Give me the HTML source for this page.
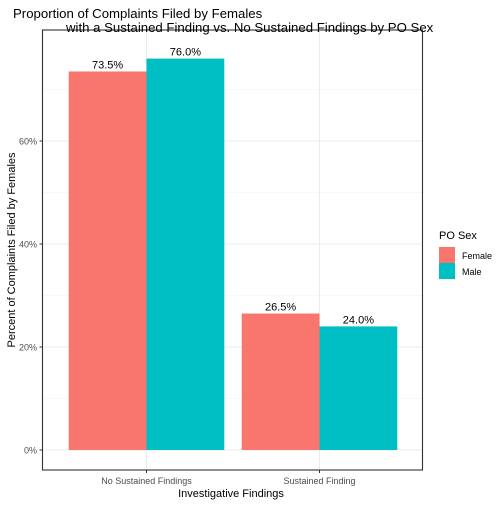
<!DOCTYPE html>
<html><head><meta charset="utf-8"><style>
body{margin:0;background:#fff}
svg text{font-family:"Liberation Sans",Arial,sans-serif}
</style></head><body>
<svg id="c" width="504" height="504" xmlns="http://www.w3.org/2000/svg"></svg>
<script>
const categories=["No Sustained Findings","Sustained Finding"];
const female=[73.5,26.5];
const male=[76.0,24.0];
const yTicks=[0,20,40,60];
const svg=document.getElementById('c');
const NS="http://www.w3.org/2000/svg";
function mk(t,a,txt){const e=document.createElementNS(NS,t);for(const k in a)e.setAttribute(k,a[k]);if(txt!=null)e.textContent=txt;svg.appendChild(e);return e;}
const L=42.5,R=422.5,T=30,B=470;
const y=v=>450-v*5.15;
const xc=i=>146.5+i*173;
const bw=77.8;
// grid
for(let v=10;v<=70;v+=20){const g=mk('line',{x1:L,x2:R,y1:y(v),y2:y(v),stroke:'#f2f2f2','stroke-width':0.6});}
yTicks.forEach(v=>{const g=mk('line',{x1:L,x2:R,y1:y(v),y2:y(v),stroke:'#ebebeb','stroke-width':1.1});
const t=mk('text',{x:37,y:y(v)+3.5,'font-size':9,fill:'#4d4d4d','text-anchor':'end'},v+'%');
mk('line',{x1:39.5,x2:42.5,y1:y(v),y2:y(v),stroke:'#333'});});
categories.forEach((c,i)=>{const g=mk('line',{x1:xc(i),x2:xc(i),y1:T,y2:B,stroke:'#ebebeb','stroke-width':1.1});});
categories.forEach((c,i)=>{
 [[female[i],'#F8766D',-1,'bar-female'],[male[i],'#00BFC4',0,'bar-male']].forEach(([v,col,off,nm])=>{
  const x0=xc(i)+off*bw;
  const r=mk('rect',{x:x0,y:y(v),width:bw,height:y(0)-y(v),fill:col});
  
  const t=mk('text',{x:x0+bw/2,y:y(v)-3,'font-size':11,fill:'#000','text-anchor':'middle'},v.toFixed(1)+'%');
  
 });
 mk('line',{x1:xc(i),x2:xc(i),y1:B,y2:B+3,stroke:'#333'});
 const t=mk('text',{x:xc(i),y:484,'font-size':9,fill:'#4d4d4d','text-anchor':'middle'},c);
 
});
const p=mk('rect',{x:L,y:T,width:R-L,height:B-T,fill:'none',stroke:'#333','stroke-width':1.1});
let t;
t=mk('text',{x:231,y:497,'font-size':11,'text-anchor':'middle'},'Investigative Findings');
t=mk('text',{x:0,y:0,'font-size':11,'text-anchor':'middle',transform:'translate(15,250) rotate(-90)'},'Percent of Complaints Filed by Females');
t=mk('text',{x:13,y:18,'font-size':13.2},'Proportion of Complaints Filed by Females');
t=mk('text',{x:66,y:32,'font-size':13.2},'with a Sustained Finding vs. No Sustained Findings by PO Sex');
t=mk('text',{x:439,y:239,'font-size':11},'PO Sex');
[['Female','#F8766D',247],['Male','#00BFC4',263]].forEach(([n,c,yy])=>{
 const r=mk('rect',{x:439,y:yy,width:16,height:16,fill:c});
 const tx=mk('text',{x:462,y:yy+12,'font-size':9},n);
});
</script>
</body></html>
